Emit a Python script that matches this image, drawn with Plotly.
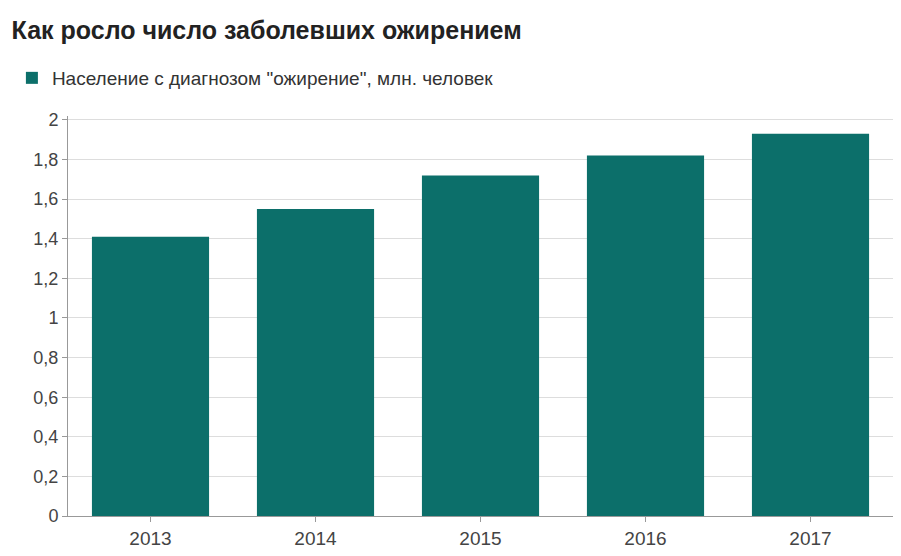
import plotly.graph_objects as go

years = ["2013", "2014", "2015", "2016", "2017"]
values = [1.41, 1.55, 1.72, 1.82, 1.93]
tick_vals = [0, 0.2, 0.4, 0.6, 0.8, 1, 1.2, 1.4, 1.6, 1.8, 2]
tick_text = ["0", "0,2", "0,4", "0,6", "0,8", "1", "1,2", "1,4", "1,6", "1,8", "2"]

fig = go.Figure(go.Bar(
    x=years, y=values, name='Население с диагнозом "ожирение", млн. человек',
    marker=dict(color="#0c6f6a", line=dict(width=0)), showlegend=True,
))
fig.update_layout(
    width=901, height=556,
    margin=dict(l=60, r=16, t=108, b=48, autoexpand=False),
    paper_bgcolor="white", plot_bgcolor="white",
    font=dict(family="Arial, Liberation Sans", size=18, color="#333"),
    title=dict(text="<b>Как росло число заболевших ожирением</b>", x=0.004, xanchor="left",
               y=0.96, yanchor="middle", font=dict(size=25, color="#222")),
    legend=dict(orientation="h", x=-0.068, xanchor="left", y=1.095, yanchor="middle",
                font=dict(size=19, color="#333"), itemwidth=30),
    bargap=0.29,
    xaxis=dict(showline=True, linecolor="#999", ticks="outside", tickcolor="#999",
               tickfont=dict(size=19, color="#444")),
    yaxis=dict(range=[0, 2.02], tickvals=tick_vals, ticktext=tick_text, gridcolor="#ddd",
               showline=True, linecolor="#999", ticks="outside", tickcolor="#999", zeroline=False,
               tickfont=dict(size=18, color="#444")),
)
fig.write_html("out.html")
